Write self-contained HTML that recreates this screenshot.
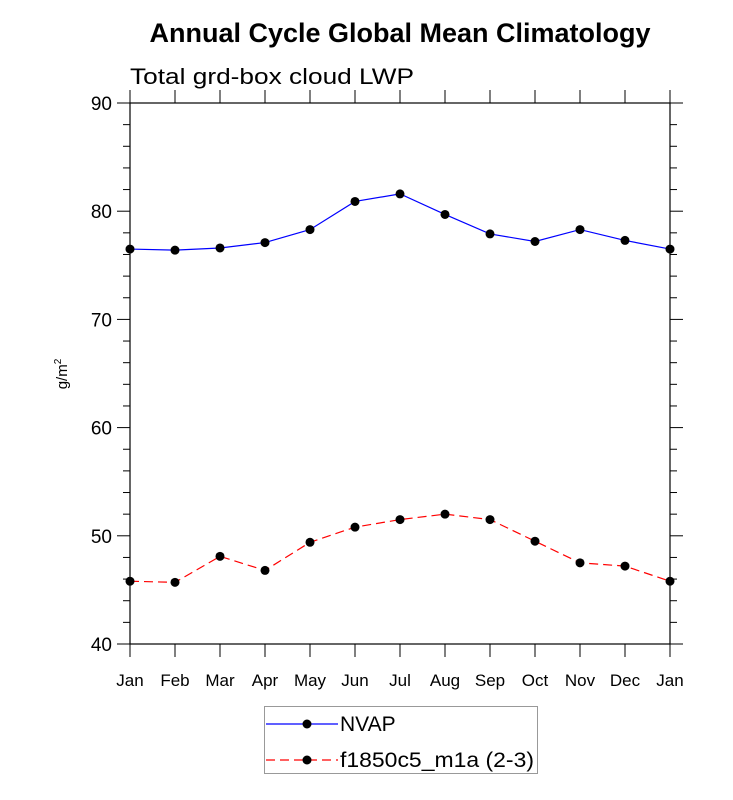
<!DOCTYPE html>
<html><head><meta charset="utf-8"><style>
html,body{margin:0;padding:0;background:#fff;}
svg{display:block;font-family:"Liberation Sans",Arial,sans-serif;}
</style></head><body>
<svg id="chart" width="733" height="800">
<text x="400" y="42" text-anchor="middle" font-size="26.5" font-weight="bold" textLength="501" lengthAdjust="spacingAndGlyphs">Annual Cycle Global Mean Climatology</text>
<text x="130" y="84" font-size="22" textLength="284" lengthAdjust="spacingAndGlyphs">Total grd-box cloud LWP</text>
<text transform="translate(67,374) rotate(-90)" text-anchor="middle" font-size="15">g/m<tspan dy="-6" font-size="10">2</tspan></text>
<g id="axes"></g>
<g id="series"></g>
<g>
<rect x="264.5" y="706.5" width="273" height="67" fill="none" stroke="#999" stroke-width="1"/>
<g>
<line x1="266" y1="724" x2="338" y2="724" stroke="#0000ff" stroke-width="1.2"/>
<circle cx="307" cy="724" r="4.5" fill="#000"/>
<text x="340" y="731" font-size="21">NVAP</text>
</g>
<g>
<line x1="266" y1="760" x2="338" y2="760" stroke="#ff0000" stroke-width="1.2" stroke-dasharray="9,5"/>
<circle cx="307" cy="760" r="4.5" fill="#000"/>
<text x="340" y="767" font-size="21" textLength="194" lengthAdjust="spacingAndGlyphs">f1850c5_m1a (2-3)</text>
</g>
</g>
</svg>
<script>
const months=["Jan","Feb","Mar","Apr","May","Jun","Jul","Aug","Sep","Oct","Nov","Dec","Jan"];
const nvap=[76.5,76.4,76.6,77.1,78.3,80.9,81.6,79.7,77.9,77.2,78.3,77.3,76.5];
const model=[45.8,45.7,48.1,46.8,49.4,50.8,51.5,52.0,51.5,49.5,47.5,47.2,45.8];
const yTicks=[40,50,60,70,80,90];
const NS="http://www.w3.org/2000/svg";
const L=130,R=670,T=103,B=644,ymin=40,ymax=90;
const xs=i=>L+(R-L)*i/(months.length-1);
const ys=v=>B-(B-T)*(v-ymin)/(ymax-ymin);
function mk(tag,attrs,parent){const e=document.createElementNS(NS,tag);for(const k in attrs)e.setAttribute(k,attrs[k]);parent.appendChild(e);return e;}
const ax=document.getElementById('axes');
const frame=mk('rect',{x:L,y:T,width:R-L,height:B-T,fill:'none',stroke:'#000','stroke-width':1.2},ax);


for(let v=ymin;v<=ymax;v+=2){
  const major=(v%10===0);const len=major?13:7;const y=ys(v);
  mk('line',{x1:L-len,y1:y,x2:L,y2:y,stroke:'#000','stroke-width':1},ax);
  mk('line',{x1:R,y1:y,x2:R+len,y2:y,stroke:'#000','stroke-width':1},ax);
}
yTicks.forEach(v=>{
  const t=mk('text',{x:L-18,y:ys(v)+7,'text-anchor':'end','font-size':19},ax);
  t.textContent=v;
  
  
});
months.forEach((m,i)=>{
  const x=xs(i);
  mk('line',{x1:x,y1:T-13,x2:x,y2:T,stroke:'#000','stroke-width':1},ax);
  mk('line',{x1:x,y1:B,x2:x,y2:B+13,stroke:'#000','stroke-width':1},ax);
  const t=mk('text',{x:x,y:B+42,'text-anchor':'middle','font-size':17},ax);
  t.textContent=m;
  
  
});
const sg=document.getElementById('series');
function drawSeries(vals,color,dash,name){
  const g=mk('g',{},sg);
  
  
  const pts=vals.map((v,i)=>xs(i)+','+ys(v)).join(' ');
  const a={points:pts,fill:'none',stroke:color,'stroke-width':1.2};
  if(dash)a['stroke-dasharray']=dash;
  mk('polyline',a,g);
  vals.forEach((v,i)=>{
    const c=mk('circle',{cx:xs(i),cy:ys(v),r:4.5,fill:'#000'},g);
    
    
  });
}
drawSeries(nvap,'#0000ff',null,'nvap-line');
drawSeries(model,'#ff0000','9,5','model-line');
</script>
</body></html>
